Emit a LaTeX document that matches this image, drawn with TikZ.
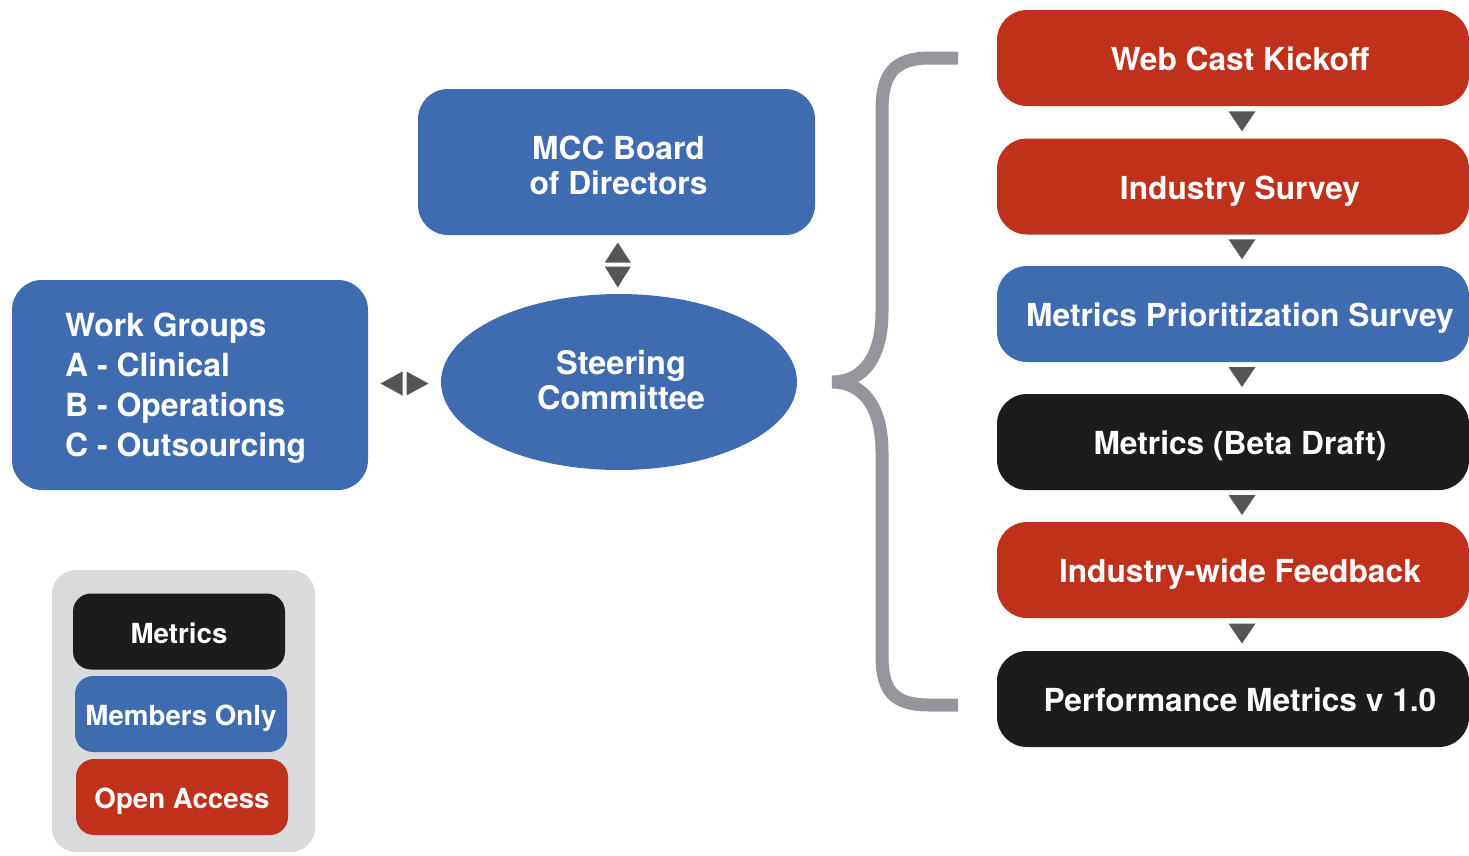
\documentclass[tikz,border=0pt]{standalone}
\usepackage{fontspec}
\setmainfont{TeX Gyre Heros}
\usetikzlibrary{shapes.geometric,calc}

\definecolor{mccblue}{RGB}{63,108,176}
\definecolor{mccred}{RGB}{192,49,27}
\definecolor{mccblack}{RGB}{28,28,28}
\definecolor{bracegray}{RGB}{148,150,155}
\definecolor{trigray}{RGB}{85,85,85}
\definecolor{legendgray}{RGB}{217,218,220}

\begin{document}
\begin{tikzpicture}[x=1pt,y=-1pt,
  box/.style={rounded corners=30pt, inner sep=0pt, text=white, align=center,
    font=\bfseries\fontsize{31.7}{35}\selectfont},
  boxtext/.style={inner sep=0pt, text=white, align=center,
    font=\bfseries\fontsize{31.7}{35}\selectfont},
  stagebox/.style={box, minimum width=472pt, minimum height=96pt,
    text height=25pt, text depth=0pt},
  legendbox/.style={box, rounded corners=18pt, minimum width=212pt, minimum height=76pt,
    text height=23pt, text depth=0pt, font=\bfseries\fontsize{27.7}{30}\selectfont},
  tri/.style={fill=trigray},
  brace/.style={draw=bracegray, line width=13pt}
]
\useasboundingbox (0,0) rectangle (1469,855);

% governance
\node[box, fill=mccblue, minimum width=397pt, minimum height=146pt] (board) at (616.5,162) {};
\node[boxtext] (board-text) at ($(board.center)+(2,3)$) {MCC Board\\of Directors};
\node[ellipse, fill=mccblue, inner sep=0pt, minimum width=356pt, minimum height=176pt] (steer) at (619,382) {};
\node[boxtext, font=\bfseries\fontsize{32.5}{35}\selectfont] (steer-text) at ($(steer.center)+(2,-2)$) {Steering\\Committee};
\node[box, fill=mccblue, minimum width=356pt, minimum height=210pt] (groups) at (190,385) {};
\node[boxtext, anchor=west, align=left, font=\bfseries\fontsize{31.9}{40}\selectfont] (groups-text) at (65,388)
  {Work Groups\\A - Clinical\\B - Operations\\C - Outsourcing};

% two-way links
\coordinate (vmid) at ($(board.south)!0.5!(steer.north)$);
\fill[tri] ($(vmid)+(-13,-2)$) -- ++(26,0) -- ++(-13,-20) -- cycle;
\fill[tri] ($(vmid)+(-13,2)$) -- ++(26,0) -- ++(-13,21) -- cycle;
\coordinate (hmid) at ($(groups.east)!0.5!(steer.west)$);
\fill[tri] ($(hmid)+(-2,-12)$) -- ++(0,24) -- ++(-22,-12) -- cycle;
\fill[tri] ($(hmid)+(2,-12)$) -- ++(0,24) -- ++(22,-12) -- cycle;

% process stages
\node[stagebox, fill=mccred]   (s1) at (1233,58)  {\hspace*{14pt}Web Cast Kickoff};
\node[stagebox, fill=mccred]   (s2) at (1233,186.5) {\hspace*{14pt}Industry Survey};
\node[stagebox, fill=mccblue]  (s3) at (1233,314) {\hspace*{14pt}Metrics Prioritization Survey};
\node[stagebox, fill=mccblack] (s4) at (1233,442) {\hspace*{14pt}Metrics (Beta Draft)};
\node[stagebox, fill=mccred]   (s5) at (1233,570) {\hspace*{14pt}Industry-wide Feedback};
\node[stagebox, fill=mccblack] (s6) at (1233,699) {\hspace*{14pt}Performance Metrics v 1.0};

\foreach \a/\b in {s1/s2,s2/s3,s3/s4,s4/s5,s5/s6}{
  \coordinate (m) at ($(\a.south)!0.5!(\b.north)+(9,0)$);
  \fill[tri] ($(m)+(-13.5,-11)$) -- ++(27,0) -- ++(-13.5,20) -- cycle;
}

% brace grouping the stages
\coordinate (bt) at (958,58);
\coordinate (bb) at (958,705);
\coordinate (tip) at (832,382);
\draw[brace] (bt) -- (930,58) .. controls (894,58) and (882,74) .. (882,110)
  -- (882,312) .. controls (882,356) and (864,382) .. (tip)
  .. controls (864,382) and (882,408) .. (882,452)
  -- (882,655) .. controls (882,692) and (894,705) .. (930,705) -- (bb);

% legend
\node[box, rounded corners=24pt, fill=legendgray, minimum width=263pt, minimum height=282pt] (legend) at (183.5,711) {};
\node[legendbox, fill=mccblack] (lm) at (179,631.5) {Metrics};
\node[legendbox, fill=mccblue]  (lb) at (181,714) {Members Only};
\node[legendbox, fill=mccred]   (lr) at (182,797) {Open Access};
\end{tikzpicture}
\end{document}
